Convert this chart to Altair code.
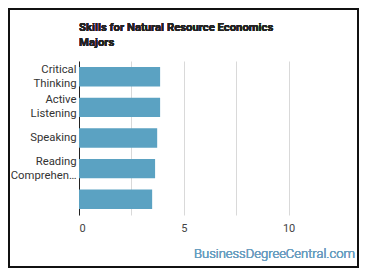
import altair as alt
import pandas as pd

skills = ["Critical Thinking", "Active Listening", "Speaking", "Reading Comprehension", " "]
scores = [3.87, 3.87, 3.73, 3.63, 3.49]
title_lines = ["Skills for Natural Resource Economics", "Majors"]

df = pd.DataFrame({"skill": skills, "score": scores})

FONT = "Roboto"

bars = alt.Chart(df).mark_bar(color="#5ba2c2").encode(
    x=alt.X("score:Q", scale=alt.Scale(domain=[0, 12.5]),
            axis=alt.Axis(title=None, values=[0, 2.5, 5, 7.5, 10], ticks=False, domain=False,
                          labelExpr="datum.value % 5 == 0 ? datum.label : ''",
                          grid=True, gridColor="#d9d9d9", labelFont=FONT, labelFontSize=11,
                          labelColor="#444", labelPadding=7)),
    y=alt.Y("skill:N", sort=skills, scale=alt.Scale(paddingInner=0.37, paddingOuter=0.2),
            axis=alt.Axis(title=None, ticks=False, domainColor="#222", labelFont=FONT,
                          labelFontSize=11.3, labelColor="#333", labelPadding=3, labelLimit=66,
                          labelExpr="split(datum.label, ' ')", labelLineHeight=14,
                          labelOffset={"condition": {"test": "indexof(datum.value, ' ') > 0", "value": -7},
                                       "value": 0})),
)

border = alt.Chart(df).mark_rect(fill=None, stroke="#111", strokeWidth=2, clip=False).encode(
    x=alt.value(-70), x2=alt.value(279), y=alt.value(-52), y2=alt.value(206)
)

title = alt.Chart(df).mark_text(text=title_lines, align="left", baseline="alphabetic",
                                font=FONT, fontSize=11.3, fontWeight="bold", color="#222",
                                lineHeight=15, clip=False).encode(
    x=alt.value(0), y=alt.value(-30)
)

mark = alt.Chart(df).mark_text(text="BusinessDegreeCentral.com", align="right", baseline="alphabetic",
                               font=FONT, fontSize=13, fontWeight=300, color="#6b9ec0",
                               clip=False).encode(
    x=alt.value(276), y=alt.value(197)
)

chart = alt.layer(bars, border, title, mark).properties(
    width=262, height=154,
    autosize=alt.AutoSizeParams(type="none"),
    padding={"left": 79, "top": 61, "right": 29, "bottom": 63},
).configure_view(stroke=None)

chart.save("out.html", embed_options={"renderer": "svg", "actions": False})
